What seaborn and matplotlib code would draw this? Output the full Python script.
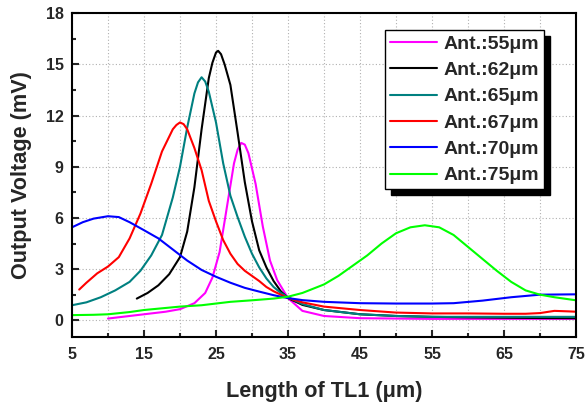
import numpy as np
import pandas as pd
import matplotlib
matplotlib.use("Agg")
import matplotlib.pyplot as plt
from matplotlib.ticker import MultipleLocator
import seaborn as sns

# ---- data ----
labels = ["Ant.:55μm", "Ant.:62μm", "Ant.:65μm", "Ant.:67μm", "Ant.:70μm", "Ant.:75μm"]
colors = ["#FF00FF", "#000000", "#008080", "#FF0000", "#0000FF", "#00FF00"]

x55 = [10, 12, 15, 18, 20, 22, 23.5, 24.5, 25.5, 26.5, 27.5, 28, 28.5, 29, 29.5, 30.5, 31.5, 32.5, 33.5, 35, 37, 40, 45, 50, 55, 60, 65, 70, 75]
y55 = [0.1, 0.2, 0.35, 0.5, 0.65, 1.0, 1.6, 2.5, 4.0, 6.6, 9.2, 10.0, 10.4, 10.3, 9.8, 8.0, 5.5, 3.5, 2.35, 1.3, 0.55, 0.25, 0.12, 0.1, 0.08, 0.08, 0.08, 0.08, 0.08]

x62 = [14, 15.5, 17, 18.5, 20, 21, 22, 23, 24, 24.5, 25, 25.3, 25.7, 26.2, 27, 28, 29, 30, 31, 32, 33, 34, 35, 37, 40, 45, 50, 55, 60, 65, 70, 75]
y62 = [1.27, 1.6, 2.05, 2.7, 3.7, 5.2, 7.8, 11.2, 14.2, 15.1, 15.7, 15.8, 15.6, 15.0, 13.8, 11.0, 8.1, 5.8, 4.1, 3.1, 2.3, 1.7, 1.3, 0.9, 0.6, 0.35, 0.25, 0.2, 0.17, 0.15, 0.13, 0.12]

x65 = [5, 7, 9, 11, 13, 14.5, 16, 17.5, 19, 20, 21, 22, 22.5, 23, 23.5, 24, 25, 26, 27, 28, 29, 30, 31, 32, 33, 34, 35, 37, 40, 45, 50, 55, 60, 65, 70, 75]
y65 = [0.88, 1.05, 1.35, 1.75, 2.25, 2.9, 3.8, 5.0, 7.2, 9.0, 11.3, 13.3, 13.95, 14.25, 14.0, 13.4, 11.6, 9.2, 7.3, 6.05, 4.9, 3.9, 3.1, 2.45, 1.95, 1.6, 1.35, 0.95, 0.6, 0.35, 0.25, 0.2, 0.2, 0.2, 0.2, 0.2]

x67 = [6, 7, 8.5, 10, 11.5, 13, 14.5, 16, 17.5, 19, 19.5, 20, 20.5, 21, 22, 23, 24, 25, 26, 27, 28, 29, 30, 31, 32, 33, 35, 37, 40, 45, 50, 55, 60, 65, 68, 70, 72, 74, 75]
y67 = [1.8, 2.2, 2.75, 3.15, 3.7, 4.8, 6.25, 8.0, 9.9, 11.2, 11.45, 11.6, 11.5, 11.2, 10.1, 8.8, 7.0, 5.8, 4.7, 3.9, 3.3, 2.9, 2.6, 2.3, 1.95, 1.7, 1.3, 1.05, 0.8, 0.6, 0.45, 0.4, 0.4, 0.38, 0.38, 0.42, 0.55, 0.52, 0.5]

x70 = [5, 6.5, 8, 10, 11.5, 13, 15, 17, 19, 21, 23, 25, 27, 29, 31, 33, 35, 37, 40, 45, 50, 55, 58, 62, 66, 70, 75]
y70 = [5.45, 5.75, 5.96, 6.1, 6.05, 5.75, 5.28, 4.8, 4.15, 3.5, 2.95, 2.55, 2.2, 1.9, 1.68, 1.47, 1.3, 1.18, 1.08, 1.0, 0.98, 0.98, 1.0, 1.15, 1.35, 1.5, 1.52]

x75 = [5, 8, 10, 13, 15, 18, 20, 23, 25, 27, 30, 33, 35, 37, 40, 42, 44, 46, 48, 50, 52, 54, 56, 58, 60, 62, 64, 66, 68, 70, 72, 75]
y75 = [0.3, 0.32, 0.35, 0.48, 0.6, 0.72, 0.8, 0.88, 0.98, 1.08, 1.17, 1.27, 1.38, 1.6, 2.1, 2.6, 3.2, 3.8, 4.5, 5.1, 5.45, 5.57, 5.45, 5.0, 4.3, 3.6, 2.9, 2.25, 1.75, 1.5, 1.35, 1.17]

xs = [x55, x62, x65, x67, x70, x75]
ys = [y55, y62, y65, y67, y70, y75]

x_ticks = [5, 15, 25, 35, 45, 55, 65, 75]
y_ticks = [0, 3, 6, 9, 12, 15, 18]

frames = []
for lab, xv, yv in zip(labels, xs, ys):
    frames.append(pd.DataFrame({"x": xv, "y": yv, "series": lab}))
df = pd.concat(frames, ignore_index=True)

sns.set_style("ticks")
plt.rcParams["font.family"] = ["Liberation Sans", "DejaVu Sans"]
plt.rcParams["font.weight"] = "bold"

fig = plt.figure(figsize=(5.86, 4.03), dpi=100)
ax = fig.add_axes([72 / 586, 1 - 337.3 / 403, 504 / 586, 324 / 403])

sns.lineplot(data=df, x="x", y="y", hue="series", hue_order=labels,
             palette=dict(zip(labels, colors)), estimator=None, sort=False,
             linewidth=1.5, ax=ax, legend=True)

ax.set_xlim(5, 75)
ax.set_ylim(-1, 18)
ax.set_xticks(x_ticks)
ax.set_yticks(y_ticks)
ax.xaxis.set_minor_locator(MultipleLocator(5))
ax.yaxis.set_minor_locator(MultipleLocator(1.5))
ax.tick_params(which="both", direction="in", width=1.5, labelsize=11.5)
ax.tick_params(which="major", length=5)
ax.tick_params(which="minor", length=3)
ax.tick_params(axis="x", pad=7)
ax.tick_params(axis="y", pad=6)
for lab in ax.get_xticklabels() + ax.get_yticklabels():
    lab.set_fontweight("bold")

for s in ax.spines.values():
    s.set_linewidth(1.5)
    s.set_color("black")
    s.set_visible(True)

ax.grid(axis="x", which="both", linestyle=(0, (1, 2)), color="#b0b0b0", linewidth=0.8)
ax.grid(axis="y", which="major", linestyle=(0, (1, 2)), color="#b0b0b0", linewidth=0.8)
ax.set_axisbelow(True)

ax.set_xlabel("Length of TL1 (μm)", fontsize=15.6, fontweight="bold", labelpad=14)
ax.set_ylabel("Output Voltage (mV)", fontsize=15.6, fontweight="bold", labelpad=10)

handles, hl = ax.get_legend_handles_labels()
leg = ax.legend(handles, hl, loc="upper left", bbox_to_anchor=(0.621, 0.948),
                borderaxespad=0, frameon=True, fancybox=False,
                prop={"size": 14, "weight": "bold"},
                handlelength=2.45, handletextpad=0.33, labelspacing=0.45,
                borderpad=0.25,
                shadow={"ox": 4, "oy": -4, "color": "black", "alpha": 1})
leg.get_frame().set_edgecolor("black")
leg.get_frame().set_linewidth(1.0)
leg.get_frame().set_alpha(1)
for h in leg.get_lines():
    h.set_linewidth(1.5)

fig.savefig("out.png", dpi=100)
